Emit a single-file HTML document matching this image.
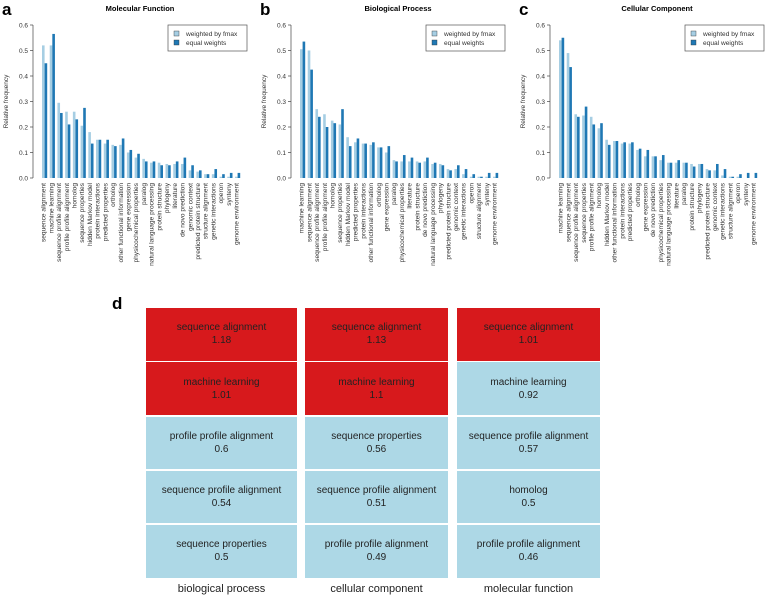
<!DOCTYPE html>
<html><head><meta charset="utf-8">
<style>
body{margin:0;width:777px;height:598px;background:#fff;overflow:hidden;font-family:"Liberation Sans",sans-serif;position:relative}
svg{position:absolute;left:0;top:0}
.cell{position:absolute;display:flex;flex-direction:column;align-items:center;justify-content:center;font-size:10px;line-height:13px;color:#222;text-align:center}
.red{background:#d7191c}.blue{background:#add8e6}
.clab{position:absolute;top:583px;font-size:11px;color:#222;text-align:center}
</style></head><body>
<svg id="charts" width="777" height="290"></svg>
<div style="position:absolute;left:112px;top:294px;font-size:17px;font-weight:bold">d</div>
<div id="grid"></div>
<script>
const catsA=["sequence alignment","machine learning","sequence profile alignment","profile profile alignment","homolog","sequence properties","hidden Markov model","protein interactions","predicted properties","ortholog","other functional information","gene expression","physicochemical properties","paralog","natural language processing","protein structure","phylogeny","literature","de novo prediction","genomic context","predicted protein structure","structure alignment","genetic interactions","operon","synteny","genome environment"];
const lightA=[0.52,0.52,0.295,0.26,0.26,0.205,0.18,0.15,0.135,0.13,0.13,0.10,0.08,0.075,0.06,0.06,0.055,0.055,0.055,0.03,0.025,0.015,0.015,0.005,0.005,0.005];
const darkA=[0.45,0.565,0.255,0.21,0.23,0.275,0.135,0.15,0.15,0.125,0.155,0.11,0.095,0.065,0.065,0.05,0.05,0.065,0.08,0.05,0.03,0.015,0.035,0.015,0.02,0.02];
const catsB=["machine learning","sequence alignment","sequence profile alignment","profile profile alignment","homolog","sequence properties","hidden Markov model","predicted properties","protein interactions","other functional information","ortholog","gene expression","paralog","physicochemical properties","literature","protein structure","de novo prediction","natural language processing","phylogeny","predicted protein structure","genomic context","genetic interactions","operon","structure alignment","synteny","genome environment"];
const lightB=[0.505,0.5,0.27,0.25,0.225,0.21,0.16,0.14,0.135,0.13,0.12,0.10,0.07,0.065,0.065,0.065,0.065,0.055,0.055,0.035,0.035,0.015,0.005,0.005,0.005,0.005];
const darkB=[0.535,0.425,0.24,0.2,0.215,0.27,0.125,0.155,0.135,0.14,0.12,0.125,0.065,0.09,0.08,0.06,0.08,0.06,0.05,0.03,0.05,0.035,0.015,0.005,0.02,0.02];
const catsC=["machine learning","sequence alignment","sequence profile alignment","sequence properties","profile profile alignment","homolog","hidden Markov model","other functional information","protein interactions","predicted properties","ortholog","gene expression","de novo prediction","physicochemical properties","natural language processing","literature","paralog","protein structure","phylogeny","predicted protein structure","genomic context","genetic interactions","structure alignment","operon","synteny","genome environment"];
const lightC=[0.54,0.49,0.25,0.245,0.24,0.195,0.15,0.145,0.135,0.135,0.11,0.085,0.085,0.07,0.06,0.06,0.06,0.055,0.055,0.035,0.03,0.01,0.005,0.005,0.0,0.0];
const darkC=[0.55,0.435,0.24,0.28,0.21,0.215,0.13,0.145,0.14,0.14,0.115,0.11,0.085,0.09,0.06,0.07,0.06,0.045,0.055,0.03,0.055,0.035,0.005,0.015,0.02,0.02];
const yTicks=[0,0.1,0.2,0.3,0.4,0.5,0.6];
const yTickLabels=["0.0","0.1","0.2","0.3","0.4","0.5","0.6"];

const NS="http://www.w3.org/2000/svg";
const svg=document.getElementById('charts');
function mk(tag,attrs,parent,text){const e=document.createElementNS(NS,tag);for(const k in attrs)e.setAttribute(k,attrs[k]);if(text!==undefined)e.textContent=text;(parent||svg).appendChild(e);return e;}
function chart(ox,letter,title,cats,light,dark,key){
  const g=mk('g',{});
  
  
  const axX=ox+33,y0=178,y1=25,bx0=ox+42,pitch=7.72,bw=2.6;
  const Y=v=>y0-(v/0.6)*(y0-y1);
  const X=i=>bx0+i*pitch;
  const pl=mk('text',{x:ox+2,y:15,'font-size':17,'font-weight':'bold',fill:'#000'},g,letter);
  
  
  const t=mk('text',{x:ox+140,y:11,'font-size':7.5,'font-weight':'bold','text-anchor':'middle',fill:'#000'},g,title);
  
  
  const ax=mk('line',{x1:axX,x2:axX,y1:Y(0),y2:Y(0.6),stroke:'#444','stroke-width':0.7},g);
  
  
  yTicks.forEach((v,i)=>{
    mk('line',{x1:axX-3,x2:axX,y1:Y(v),y2:Y(v),stroke:'#444','stroke-width':0.7},g);
    const tl=mk('text',{x:axX-5,y:Y(v)+2.3,'font-size':6.5,'text-anchor':'end',fill:'#333'},g,yTickLabels[i]);
    
    
  });
  const yt=mk('text',{x:0,y:0,'font-size':6.5,'text-anchor':'middle',fill:'#333',transform:`translate(${ox+8},${Y(0.3)}) rotate(-90)`},g,'Relative frequency');
  
  
  cats.forEach((c,i)=>{
    const b1=mk('rect',{x:X(i),y:Y(light[i]),width:bw,height:Y(0)-Y(light[i]),fill:'#a6cee3'},g);
    
    
    const b2=mk('rect',{x:X(i)+bw,y:Y(dark[i]),width:bw,height:Y(0)-Y(dark[i]),fill:'#1f78b4'},g);
    
    
    const cx=X(i)+bw+1;
    const lb=mk('text',{x:0,y:0,'font-size':6.6,'text-anchor':'end',fill:'#333',transform:`translate(${cx},183) rotate(-90)`},g,c);
    
    
  });
  const lg=mk('g',{},g);
  
  
  const lx=ox+168;
  mk('rect',{x:lx,y:25,width:79,height:26,fill:'#fff',stroke:'#555','stroke-width':0.7},lg);
  mk('rect',{x:lx+6,y:31,width:5,height:5,fill:'#a6cee3',stroke:'#333','stroke-width':0.4},lg);
  mk('rect',{x:lx+6,y:40,width:5,height:5,fill:'#1f78b4',stroke:'#333','stroke-width':0.4},lg);
  const e1=mk('text',{x:lx+18,y:36,'font-size':6.6,fill:'#333'},lg,'weighted by fmax');
  
  
  const e2=mk('text',{x:lx+18,y:45,'font-size':6.6,fill:'#333'},lg,'equal weights');
  
  
}
chart(0,'a','Molecular Function',catsA,lightA,darkA,'molecular-function');
chart(258,'b','Biological Process',catsB,lightB,darkB,'biological-process');
chart(517,'c','Cellular Component',catsC,lightC,darkC,'cellular-component');

const colLabels=["biological process","cellular component","molecular function"];
const colNames=[["sequence alignment","machine learning","profile profile alignment","sequence profile alignment","sequence properties"],["sequence alignment","machine learning","sequence properties","sequence profile alignment","profile profile alignment"],["sequence alignment","machine learning","sequence profile alignment","homolog","profile profile alignment"]];
const colVals=[["1.18","1.01","0.6","0.54","0.5"],["1.13","1.1","0.56","0.51","0.49"],["1.01","0.92","0.57","0.5","0.46"]];
const grid=document.getElementById('grid');
const colX=[146,305,457],colW=[151,143,143];
colLabels.forEach((lab,c)=>{
  colNames[c].forEach((n,r)=>{
    const d=document.createElement('div');
    
    
    d.className='cell '+(parseFloat(colVals[c][r])>1?'red':'blue');
    d.style.left=colX[c]+'px';d.style.width=colW[c]+'px';
    d.style.top=(308+r*54.3)+'px';d.style.height='52.5px';
    d.innerHTML='<span>'+n+'</span><span>'+colVals[c][r]+'</span>';
    grid.appendChild(d);
  });
  const l=document.createElement('div');
  
  
  l.className='clab';l.style.left=colX[c]+'px';l.style.width=colW[c]+'px';
  l.textContent=lab;grid.appendChild(l);
});
</script>
</body></html>
